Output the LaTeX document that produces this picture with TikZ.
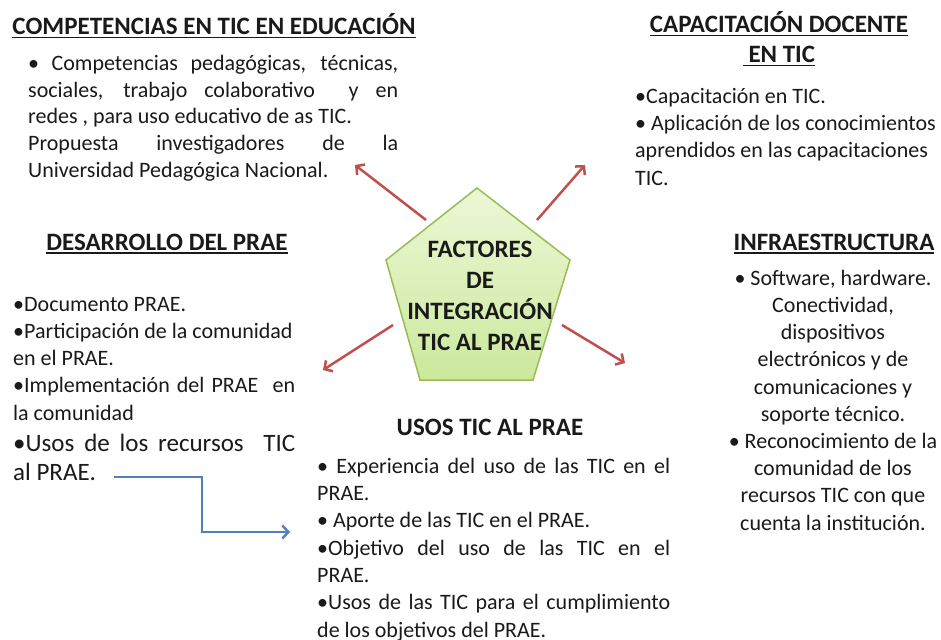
\documentclass[tikz,border=0pt]{standalone}
\usepackage{fontspec}
\setmainfont{Carlito}
\usetikzlibrary{arrows.meta}
\definecolor{arrred}{HTML}{C0504D}
\definecolor{arrblue}{HTML}{4F81BD}
\definecolor{pentedge}{HTML}{9BBB59}
\definecolor{penttop}{HTML}{ECF7D6}
\definecolor{pentbot}{HTML}{CBE99C}
\definecolor{txt}{HTML}{1A1A1A}
\newcommand\hul[1]{\setbox0\hbox{#1}\rlap{\rule[-3.5pt]{\wd0}{1.8pt}}\box0}
\newcommand\jline[2]{\makebox[#1][s]{#2}}
\tikzset{
  head/.style={font=\fontsize{25}{30}\selectfont\bfseries, text=txt, inner sep=0pt},
  body/.style={font=\fontsize{22}{27}\selectfont, text=txt, inner sep=0pt, align=left},
  redarr/.style={draw=arrred, line width=2.5pt, -{Straight Barb[length=6pt,width=13pt]}},
  bluearr/.style={draw=arrblue, line width=2.4pt, -{Straight Barb[length=6pt,width=13pt]}},
}
\begin{document}
\begin{tikzpicture}[x=1pt,y=-1pt]
\useasboundingbox (0,0) rectangle (941,639);
\fill[white] (0,0) rectangle (941,639);

% headings (base anchor = baseline of the last line)
\node[head, anchor=base] (h1) at (214,35) {\hul{COMPETENCIAS EN TIC EN EDUCACIÓN}};
\node[head, anchor=base, align=center] (h2) at (779,63) {\hul{CAPACITACIÓN DOCENTE}\\\hul{\ EN TIC}};
\node[head, anchor=base] (h3) at (167,250) {\hul{DESARROLLO DEL PRAE}};
\node[head, anchor=base] (h4) at (834,250) {\hul{INFRAESTRUCTURA}};
\node[head, anchor=base] (h5) at (490,435) {USOS TIC AL PRAE};

% bodies
\node[body, font=\fontsize{22}{26.5}\selectfont, anchor=base west] (b1) at (28,177)
 {\jline{370pt}{• Competencias pedagógicas, técnicas,}\\
  \jline{370pt}{sociales, trabajo colaborativo\ \ y en}\\
  redes , para uso educativo de as TIC.\\
  \jline{370pt}{Propuesta investigadores de la}\\
  Universidad Pedagógica Nacional.};

\node[body, font=\fontsize{22}{27.3}\selectfont, anchor=base west] (b2) at (635,185)
 {•Capacitación en TIC.\\
  • Aplicación de los conocimientos\\
  aprendidos en las capacitaciones\\
  TIC.};

\node[body, font=\fontsize{22}{27.25}\selectfont, anchor=base west] (b3) at (13,420)
 {•Documento PRAE.\\
  •Participación de la comunidad\\
  en el PRAE.\\
  \jline{282pt}{•Implementación del PRAE\ \ en}\\
  la comunidad};
\node[body, font=\fontsize{25}{29}\selectfont, anchor=base west] (b3b) at (13,480)
 {\jline{282pt}{•Usos de los recursos\ \ TIC}\\
  al PRAE.};

\node[body, font=\fontsize{22}{27.2}\selectfont, align=center, anchor=base] (b4) at (833,530)
 {• Software, hardware.\\
  Conectividad,\\
  dispositivos\\
  electrónicos y de\\
  comunicaciones y\\
  soporte técnico.\\
  • Reconocimiento de la\\
  comunidad de los\\
  recursos TIC con que\\
  cuenta la institución.};

\node[body, font=\fontsize{22}{27.33}\selectfont, anchor=base west] (b5) at (317,637)
 {\jline{353pt}{• Experiencia del uso de las TIC en el}\\
  PRAE.\\
  • Aporte de las TIC en el PRAE.\\
  \jline{353pt}{•Objetivo del uso de las TIC en el}\\
  PRAE.\\
  \jline{353pt}{•Usos de las TIC para el cumplimiento}\\
  de los objetivos del PRAE.};

% central pentagon
\draw[pentedge, line width=1.5pt, top color=penttop, bottom color=pentbot]
  (477,188) -- (570,260) -- (533,380) -- (420,380) -- (386,260) -- cycle;
\node[head, font=\fontsize{25}{30.7}\selectfont\bfseries, align=center, anchor=base] (ctr) at (480,350)
 {FACTORES\\DE\\INTEGRACIÓN\\TIC AL PRAE};

% arrows
\coordinate (a1s) at (426,220); \coordinate (a1e) at (355,165);
\coordinate (a2s) at (537,220); \coordinate (a2e) at (585,165);
\coordinate (a3s) at (393,325); \coordinate (a3e) at (323,370);
\coordinate (a4s) at (562,325); \coordinate (a4e) at (625,363);
\draw[redarr] (a1s) -- (a1e);
\draw[redarr] (a2s) -- (a2e);
\draw[redarr] (a3s) -- (a3e);
\draw[redarr] (a4s) -- (a4e);

\coordinate (bs) at (114,477);
\coordinate (bk) at (202,532);
\coordinate (be) at (290,532);
\draw[bluearr] (bs) -| (bk) -- (be);
\end{tikzpicture}
\end{document}
